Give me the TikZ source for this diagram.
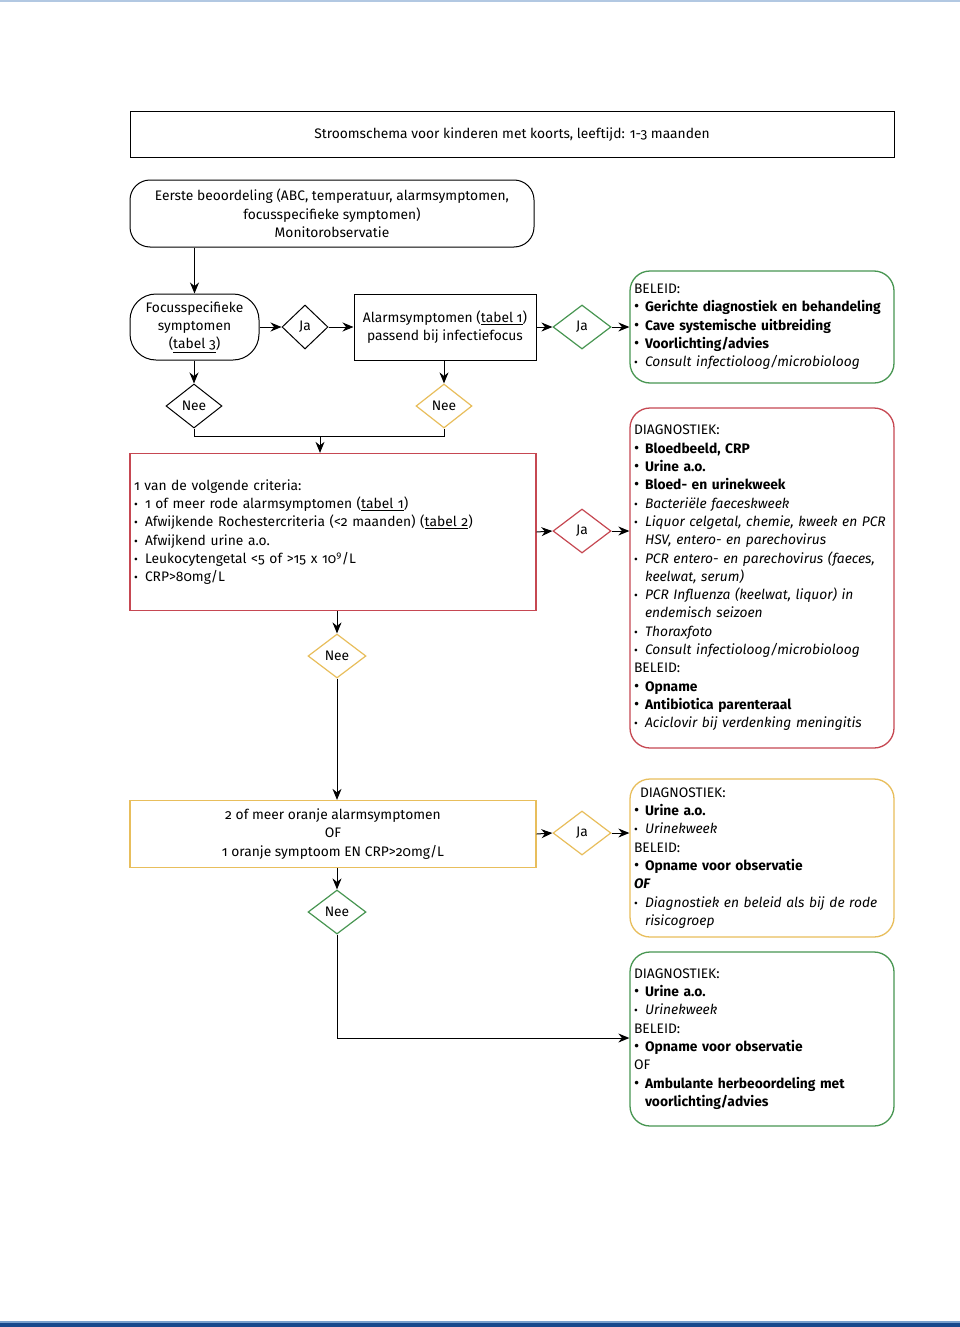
\documentclass[tikz,border=0pt]{standalone}
\usepackage{fontspec}
\usepackage{graphicx}
\setmainfont{Fira Sans}[Numbers=OldStyle]
\usetikzlibrary{shapes.geometric,arrows.meta}
\hyphenpenalty=10000
\exhyphenpenalty=10000
\definecolor{riskred}{RGB}{198,72,82}
\definecolor{riskgreen}{RGB}{72,150,82}
\definecolor{riskyellow}{RGB}{232,190,92}
\definecolor{topblue}{RGB}{178,200,226}
\definecolor{botblue}{RGB}{22,72,140}
\definecolor{midblue}{RGB}{120,160,205}
\newcommand{\bitem}[1]{\par\hangindent=11pt\hangafter=1\noindent\makebox[11pt][l]{\scalebox{1.15}{\textbullet}}\textbf{#1}\par}
\newcommand{\iitem}[1]{\par\hangindent=11pt\hangafter=1\noindent\makebox[11pt][l]{\scalebox{0.85}{\textbullet}}\textit{#1}\par}
\newcommand{\pitem}[1]{\par\hangindent=11pt\hangafter=1\noindent\makebox[11pt][l]{\scalebox{0.85}{\textbullet}}#1\par}
\tikzset{
  txt/.style={font=\fontsize{13.8}{18.3}\selectfont},
  flowbox/.style={draw,line width=1pt,rectangle,txt,inner sep=3pt,align=center},
  roundbox/.style={flowbox,rounded corners=20pt},
  listbox/.style={draw,line width=1.3pt,rectangle,rounded corners=20pt,txt,
    minimum width=264pt,text width=256pt,inner xsep=3pt,align=left},
  choice/.style={draw,line width=1pt,diamond,txt,inner sep=0pt,
    minimum width=58pt,minimum height=44pt},
  arr/.style={line width=1pt,-{Stealth[length=11pt,width=9pt]}},
  link/.style={line width=1pt}
}
\begin{document}
\begin{tikzpicture}[x=1pt,y=-1pt]
\useasboundingbox (0,0) rectangle (960,1327);
\fill[white] (0,0) rectangle (960,1327);
% page rules
\fill[topblue] (0,0) rectangle (960,2.5);
\fill[midblue] (0,1321) rectangle (960,1323);
\fill[botblue] (0,1323) rectangle (960,1327);

% Title and first assessment
\node[flowbox,minimum width=764pt,minimum height=45pt] (title) at (512,134.5)
  {Stroomschema voor kinderen met koorts, leeftijd: 1-3 maanden};
\node[roundbox,minimum width=404pt,minimum height=67pt] (eerste) at (332,213.5)
  {Eerste beoordeling (ABC, temperatuur, alarmsymptomen,\\
   focusspecifieke symptomen)\\ Monitorobservatie};

% Focus row
\node[roundbox,rounded corners=26pt,minimum width=129pt,minimum height=66pt] (focus) at (194.5,327)
  {Focusspecifieke\\ symptomen\\ (\underline{tabel 3})};
\node[choice,minimum width=46pt] (ja1) at (305,327) {Ja};
\node[flowbox,minimum width=182pt,minimum height=66pt] (alarm) at (445,327)
  {Alarmsymptomen (\underline{tabel 1})\\ passend bij infectiefocus};
\node[choice,line width=1.2pt,riskgreen,text=black] (ja2) at (582,327) {Ja};
\node[listbox,riskgreen,text=black,minimum height=112pt] (beleid) at (762,327)
  {BELEID:
   \bitem{Gerichte diagnostiek en behandeling}
   \bitem{Cave systemische uitbreiding}
   \bitem{Voorlichting/advies}
   \iitem{Consult infectioloog/microbioloog}};
\node[choice,minimum width=56pt] (nee1) at (194,406) {Nee};
\node[choice,line width=1.2pt,riskyellow,text=black,minimum width=56pt] (nee2) at (444,406) {Nee};
\coordinate (mrg) at (320,436);

\draw[arr] (focus.north |- eerste.south) -- (focus.north);
\draw[arr] (focus.east) -- (ja1.west);
\draw[arr] (ja1.east) -- (alarm.west);
\draw[arr] (alarm.east) -- (ja2.west);
\draw[arr] (ja2.east) -- (beleid.west);
\draw[arr] (focus.south -| nee1.north) -- (nee1.north);
\draw[arr] (alarm.south -| nee2.north) -- (nee2.north);
\draw[link] (nee1.south) |- (nee2.south |- mrg) -- (nee2.south);

% Red risk group
\node[flowbox,line width=1.3pt,riskred,text=black,minimum width=406pt,minimum height=157pt,
  text width=398pt,inner xsep=4pt,align=left] (criteria) at (333,532)
  {1 van de volgende criteria:
   \pitem{1 of meer rode alarmsymptomen (\underline{tabel 1})}
   \pitem{Afwijkende Rochestercriteria (<2 maanden) (\underline{tabel 2})}
   \pitem{Afwijkend urine a.o.}
   \pitem{Leukocytengetal <5 of >15 x 10\textsuperscript{9}/L}
   \pitem{CRP>80mg/L}};
\node[choice,line width=1.2pt,riskred,text=black] (ja3) at (582,531) {Ja};
\node[listbox,riskred,text=black,minimum height=340pt] (diagred) at (762,578)
  {DIAGNOSTIEK:
   \bitem{Bloedbeeld, CRP}
   \bitem{Urine a.o.}
   \bitem{Bloed- en urinekweek}
   \iitem{Bacteriële faeceskweek}
   \iitem{Liquor celgetal, chemie, kweek en PCR HSV, entero- en parechovirus}
   \iitem{PCR entero- en parechovirus (faeces, keelwat, serum)}
   \iitem{PCR Influenza (keelwat, liquor) in endemisch seizoen}
   \iitem{Thoraxfoto}
   \iitem{Consult infectioloog/microbioloog}
   \noindent BELEID:
   \bitem{Opname}
   \bitem{Antibiotica parenteraal}
   \iitem{Aciclovir bij verdenking meningitis}};
\node[choice,line width=1.2pt,riskyellow,text=black] (nee3) at (337,656) {Nee};

\draw[arr] (mrg) -- (mrg |- criteria.north);
\draw[arr] (criteria.east) -- (ja3.west);
\draw[arr] (ja3.east) -- (diagred.west |- ja3.east);
\draw[arr] (criteria.south -| nee3.north) -- (nee3.north);

% Orange risk group
\node[flowbox,line width=1.3pt,riskyellow,text=black,minimum width=406pt,minimum height=67pt] (oranje) at (333,834)
  {2 of meer oranje alarmsymptomen\\ OF\\ 1 oranje symptoom EN CRP>20mg/L};
\node[choice,line width=1.2pt,riskyellow,text=black] (ja4) at (582,833) {Ja};
\node[listbox,riskyellow,text=black,minimum height=158pt] (diagoranje) at (762,858)
  {\hspace*{6pt}DIAGNOSTIEK:
   \bitem{Urine a.o.}
   \iitem{Urinekweek}
   \noindent BELEID:
   \bitem{Opname voor observatie}
   \noindent\textbf{\textit{OF}}
   \iitem{Diagnostiek en beleid als bij de rode risicogroep}};
\node[choice,line width=1.2pt,riskgreen,text=black] (nee4) at (337,912) {Nee};

\draw[arr] (nee3.south) -- (nee3.south |- oranje.north);
\draw[arr] (oranje.east) -- (ja4.west);
\draw[arr] (ja4.east) -- (diagoranje.west |- ja4.east);
\draw[arr] (oranje.south -| nee4.north) -- (nee4.north);

% Green risk group
\node[listbox,riskgreen,text=black,minimum height=174pt] (diaggroen) at (762,1039)
  {DIAGNOSTIEK:
   \bitem{Urine a.o.}
   \iitem{Urinekweek}
   \noindent BELEID:
   \bitem{Opname voor observatie}
   \noindent OF
   \bitem{Ambulante herbeoordeling met voorlichting/advies}};
\draw[arr] (nee4.south) |- (diaggroen.west |- 0,1038);
\end{tikzpicture}
\end{document}
